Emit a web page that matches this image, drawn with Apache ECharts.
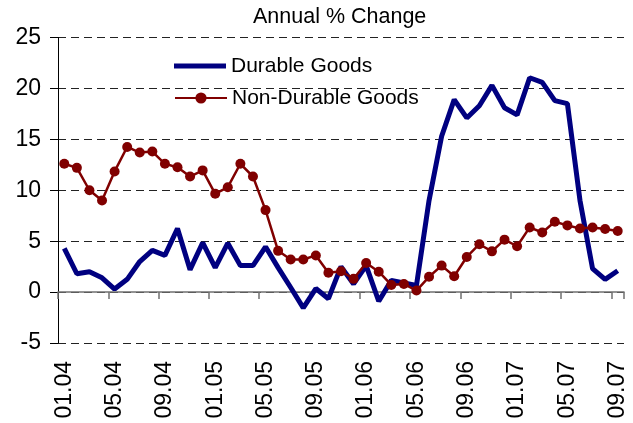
<!DOCTYPE html>
<html><head><meta charset="utf-8">
<script src="https://cdn.jsdelivr.net/npm/echarts@6/dist/echarts.min.js"></script>
<style>html,body{margin:0;padding:0;background:#fff}#c{width:633px;height:423px}</style>
</head><body><div id="c"></div>
<script>
const categories = [
  "01.04","02.04","03.04","04.04","05.04","06.04","07.04","08.04","09.04","10.04","11.04","12.04",
  "01.05","02.05","03.05","04.05","05.05","06.05","07.05","08.05","09.05","10.05","11.05","12.05",
  "01.06","02.06","03.06","04.06","05.06","06.06","07.06","08.06","09.06","10.06","11.06","12.06",
  "01.07","02.07","03.07","04.07","05.07","06.07","07.07","08.07","09.07"
];
const durableGoods = [
  4.3,1.8,2.0,1.4,0.3,1.25,3.0,4.1,3.6,6.25,
  2.2,4.85,2.4,4.8,2.6,2.6,4.45,2.4,0.45,-1.55,
  0.35,-0.65,2.5,0.8,2.6,-0.9,1.15,0.9,0.65,9.0,
  15.3,18.9,17.1,18.3,20.3,18.1,17.4,21.05,20.6,18.8,
  18.5,9.0,2.3,1.25,2.1
];
const nonDurableGoods = [
  12.6,12.2,10.0,9.0,11.85,14.25,13.7,13.8,12.6,12.25,
  11.35,11.95,9.65,10.3,12.6,11.35,8.05,4.05,3.2,3.2,
  3.6,1.9,2.05,1.3,2.85,2.0,0.7,0.8,0.15,1.5,
  2.6,1.55,3.45,4.7,4.0,5.15,4.5,6.35,5.85,6.9,
  6.55,6.25,6.35,6.2,6.0
];
const seriesNames = ["Durable Goods", "Non-Durable Goods"];
const titleText = "Annual % Change";

const FONT = "Liberation Sans, Arial, sans-serif";
const legendText = {fontSize: 21, color: '#000', fontFamily: FONT, lineHeight: 24};
const chart = echarts.init(document.getElementById('c'), null, {renderer: 'canvas'});
chart.setOption({
  animation: false,
  backgroundColor: '#fff',
  textStyle: {fontFamily: FONT},
  title: {
    text: titleText, left: 253, top: 6, padding: 0,
    textStyle: {fontSize: 21.5, fontWeight: 'normal', color: '#000', fontFamily: FONT}
  },
  legend: [{
    data: [{name: seriesNames[0], icon: 'rect'}], orient: 'vertical', left: 174, top: 54, padding: 0,
    itemWidth: 52, itemHeight: 5, textStyle: legendText
  }, {
    data: [seriesNames[1]], orient: 'vertical', left: 174, top: 86, padding: 0,
    itemWidth: 52, itemHeight: 14, textStyle: legendText
  }],
  grid: {left: 58, right: 9, top: 37.5, bottom: 80, containLabel: false},
  xAxis: [{
    type: 'category', data: categories, position: 'bottom', boundaryGap: true,
    axisLine: {show: false, onZero: false},
    axisTick: {show: false},
    axisLabel: {interval: 3, rotate: 90, fontSize: 23, margin: 18, color: '#000', fontFamily: FONT},
    splitLine: {show: false}
  }, {
    type: 'category', data: categories, position: 'top', boundaryGap: true,
    axisLine: {show: true, onZero: true, lineStyle: {color: '#707070', width: 1.5}},
    axisTick: {show: true, interval: 3, inside: true, length: 7, lineStyle: {color: '#707070', width: 1.5}},
    axisLabel: {show: false},
    splitLine: {show: false}
  }],
  yAxis: {
    type: 'value', min: -5, max: 25, interval: 5,
    axisLine: {show: true, lineStyle: {color: '#000', width: 1}},
    axisTick: {show: true, length: 8, lineStyle: {color: '#000'}},
    axisLabel: {fontSize: 23, color: '#000', margin: 17, fontFamily: FONT},
    splitLine: {show: true, lineStyle: {color: '#222', width: 1, type: [8, 5]}}
  },
  series: [{
    name: seriesNames[0], type: 'line', data: durableGoods, xAxisIndex: 0,
    color: '#000080', symbol: 'none', lineStyle: {width: 5, color: '#000080'}
  }, {
    name: seriesNames[1], type: 'line', data: nonDurableGoods, xAxisIndex: 0,
    color: '#800000', symbol: 'circle', symbolSize: 10, showAllSymbol: true,
    itemStyle: {color: '#800000'}, lineStyle: {width: 2.5, color: '#800000'}
  }]
});
</script></body></html>
